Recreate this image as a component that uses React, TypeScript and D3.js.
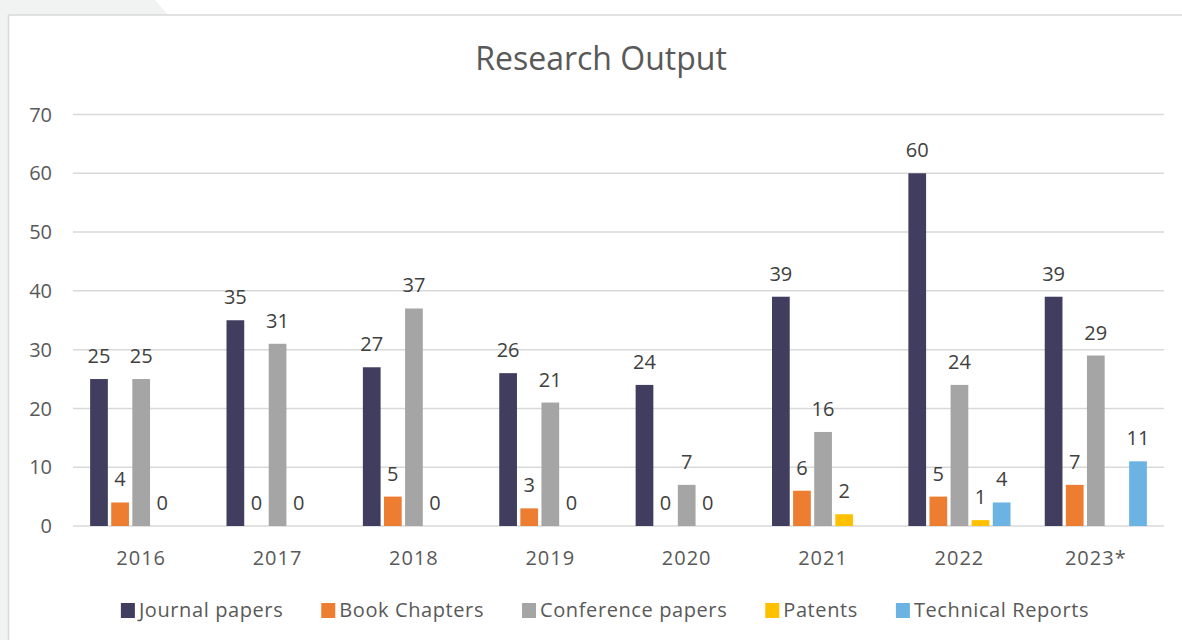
import React from "react";
import * as d3 from "d3";

const categories = ["2016", "2017", "2018", "2019", "2020", "2021", "2022", "2023*"];
const seriesNames = ["Journal papers", "Book Chapters", "Conference papers", "Patents", "Technical Reports"];
const journalPapers: (number | null)[] = [25, 35, 27, 26, 24, 39, 60, 39];
const bookChapters: (number | null)[] = [4, 0, 5, 3, 0, 6, 5, 7];
const conferencePapers: (number | null)[] = [25, 31, 37, 21, 7, 16, 24, 29];
const patents: (number | null)[] = [0, 0, 0, 0, 0, 2, 1, null];
const technicalReports: (number | null)[] = [null, null, null, null, null, null, 4, 11];
const yTicks = [0, 10, 20, 30, 40, 50, 60, 70];
const seriesColors = ["#403d5f", "#ed7d31", "#a5a5a5", "#ffc000", "#6bb3e3"];

const seriesValues = [journalPapers, bookChapters, conferencePapers, patents, technicalReports];

const W = 1182;
const H = 640;
const FONT = "'Open Sans', 'DejaVu Sans', sans-serif";
const TEXT = "#595959";
const GRID = "#d9d9d9";
const LEGEND_LS = 0.6;

function measure(text: string, size: number): number {
  const c = document.createElement("canvas").getContext("2d");
  if (!c) return text.length * size * 0.5;
  c.font = `${size}px 'Open Sans'`;
  return c.measureText(text).width + LEGEND_LS * text.length;
}

export default function App() {
  const x0 = d3.scaleBand<string>().domain(categories).range([73, 1164]).paddingInner(0.2264).paddingOuter(0.1132);
  const x1 = d3.scaleBand<string>().domain(seriesNames).range([0, x0.bandwidth()]).paddingInner(0.16).paddingOuter(0.08);
  const y = d3.scaleLinear().domain([0, 70]).range([526, 114.5]);

  // legend layout
  const sq = 14;
  const sqGap = 4;
  const itemGap = 38;
  const widths = seriesNames.map((s) => measure(s, 20));
  const itemW = widths.map((w) => sq + sqGap + w);
  const total = d3.sum(itemW) + itemGap * (seriesNames.length - 1);
  let lx = 605 - total / 2;
  const legendX: number[] = [];
  itemW.forEach((w) => {
    legendX.push(lx);
    lx += w + itemGap;
  });

  return (
    <svg width={W} height={H} style={{ position: "absolute", left: 0, top: 0, background: "#fff" }} fontFamily={FONT}>
      <rect x={0} y={0} width={W} height={H} fill="#ffffff" />
      <polygon points={`0,0 155,0 168,15 8,15 8,${H} 0,${H}`} fill="#f1f2f2" />
      <rect x={8.5} y={15} width={W + 20} height={H + 20} fill="#ffffff" stroke={GRID} strokeWidth={1.5} />

      <text x={601} y={70} textAnchor="middle" fontSize={32} fill={TEXT}>
        Research Output
      </text>

      {yTicks.map((t) => (
        <g key={t}>
          <line x1={73} x2={1164} y1={y(t)} y2={y(t)} stroke={GRID} strokeWidth={1.5} />
          <text x={52} y={y(t)} dy="0.36em" textAnchor="end" fontSize={20} fill={TEXT}>
            {t}
          </text>
        </g>
      ))}

      {categories.map((c, ci) => (
        <g key={c} transform={`translate(${x0(c)},0)`}>
          {seriesNames.map((s, si) => {
            const v = seriesValues[si][ci];
            if (v === null) return null;
            const bx = x1(s) as number;
            const bw = x1.bandwidth();
            return (
              <g key={s}>
                <rect x={bx} y={y(v)} width={bw} height={y(0) - y(v)} fill={seriesColors[si]} />
                <text x={bx + bw / 2} y={y(v) - 16} textAnchor="middle" fontSize={20} fill="#404040">
                  {v}
                </text>
              </g>
            );
          })}
          <text x={x0.bandwidth() / 2} y={565} textAnchor="middle" fontSize={20} letterSpacing={1} fill={TEXT}>
            {c}
          </text>
        </g>
      ))}

      {seriesNames.map((s, i) => (
        <g key={s} transform={`translate(${legendX[i]},0)`}>
          <rect x={0} y={603} width={sq} height={15} fill={seriesColors[i]} />
          <text x={sq + sqGap} y={617} fontSize={20} letterSpacing={LEGEND_LS} fill={TEXT}>
            {s}
          </text>
        </g>
      ))}
    </svg>
  );
}
